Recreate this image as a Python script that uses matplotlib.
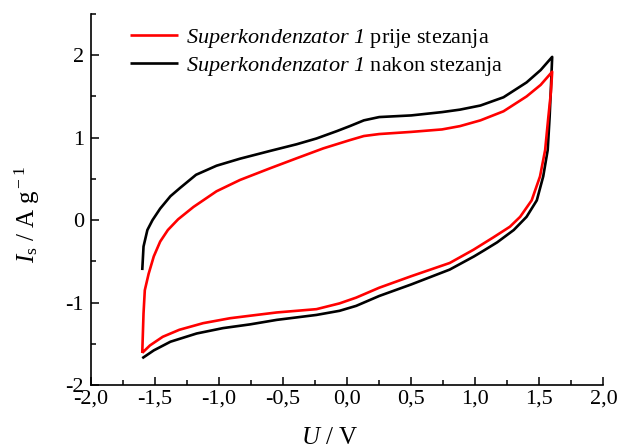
import matplotlib
matplotlib.use("Agg")
import matplotlib.pyplot as plt
from matplotlib.ticker import FixedLocator, FixedFormatter, MultipleLocator

plt.rcParams["font.family"] = ["Liberation Serif", "DejaVu Serif"]
plt.rcParams["mathtext.fontset"] = "custom"
plt.rcParams["mathtext.rm"] = "Liberation Serif"
plt.rcParams["mathtext.it"] = "Liberation Serif:italic"
plt.rcParams["mathtext.sf"] = "Liberation Serif:italic"
plt.rcParams["mathtext.bf"] = "Liberation Serif:bold"

# Cyclic voltammogram, supercapacitor 1 before clamping (red)
u_before = [-1.60, -1.59, -1.58, -1.55, -1.51, -1.46, -1.40, -1.32, -1.20, -1.02,
            -0.837, -0.60, -0.395, -0.187, 0.02, 0.13, 0.25, 0.50, 0.74, 0.88,
            1.04, 1.22, 1.40, 1.51, 1.60,
            1.59, 1.57, 1.545, 1.505, 1.44, 1.35, 1.27, 1.14, 0.985, 0.80,
            0.50, 0.25, 0.07, -0.06, -0.24, -0.55, -0.76, -0.915, -1.125, -1.31,
            -1.44, -1.54, -1.60]
i_before = [-1.61, -1.13, -0.85, -0.65, -0.44, -0.26, -0.12, 0.01, 0.16, 0.35,
            0.487, 0.63, 0.75, 0.87, 0.97, 1.02, 1.044, 1.07, 1.10, 1.14,
            1.21, 1.32, 1.50, 1.64, 1.80,
            1.55, 1.25, 0.85, 0.53, 0.24, 0.04, -0.08, -0.21, -0.36, -0.52,
            -0.68, -0.82, -0.94, -1.01, -1.08, -1.12, -1.16, -1.19, -1.25, -1.33,
            -1.415, -1.52, -1.61]

# Supercapacitor 1 after clamping (black)
u_after = [-1.60, -1.59, -1.56, -1.52, -1.46, -1.38, -1.305, -1.18, -1.02, -0.837,
           -0.60, -0.395, -0.24, -0.08, 0.02, 0.13, 0.25, 0.50, 0.74, 0.88, 1.04,
           1.22, 1.40, 1.51, 1.60,
           1.59, 1.58, 1.565, 1.53, 1.48, 1.40, 1.30, 1.17, 1.065, 0.99,
           0.80, 0.50, 0.25, 0.07, -0.06, -0.24, -0.55, -0.76, -0.97, -1.175,
           -1.38, -1.51, -1.60]
i_after = [-0.606, -0.32, -0.12, 0.0, 0.14, 0.29, 0.39, 0.55, 0.66, 0.745,
           0.84, 0.92, 0.99, 1.08, 1.14, 1.21, 1.25, 1.27, 1.31, 1.34, 1.39,
           1.49, 1.67, 1.82, 1.98,
           1.60, 1.25, 0.85, 0.53, 0.24, 0.04, -0.12, -0.27, -0.37, -0.44,
           -0.60, -0.78, -0.92, -1.04, -1.10, -1.15, -1.21, -1.265, -1.31, -1.375,
           -1.475, -1.58, -1.675]

x_ticks = [-2.0, -1.5, -1.0, -0.5, 0.0, 0.5, 1.0, 1.5, 2.0]
x_tick_labels = ["-2,0", "-1,5", "-1,0", "-0,5", "0,0", "0,5", "1,0", "1,5", "2,0"]
y_ticks = [-2, -1, 0, 1, 2]
y_tick_labels = ["-2", "-1", "0", "1", "2"]

label_before = r"$\mathsf{Superkondenzator\ 1}$ prije stezanja"
label_after = r"$\mathsf{Superkondenzator\ 1}$ nakon stezanja"

fig = plt.figure(figsize=(6.17, 4.48), dpi=100)
ax = fig.add_axes([0.1475, 0.1406, 0.978 - 0.1475, 0.96875 - 0.1406])

line_kw = dict(lw=1.9, solid_joinstyle="round", solid_capstyle="butt")
ax.plot(u_before, i_before, color="#ff0000", label=label_before, zorder=3, **line_kw)
ax.plot(u_after, i_after, color="black", label=label_after, zorder=2, **line_kw)

ax.set_xlim(-2.0, 2.0)
ax.set_ylim(-2.0, 2.5)

ax.xaxis.set_major_locator(FixedLocator(x_ticks))
ax.xaxis.set_major_formatter(FixedFormatter(x_tick_labels))
ax.yaxis.set_major_locator(FixedLocator(y_ticks))
ax.yaxis.set_major_formatter(FixedFormatter(y_tick_labels))
ax.xaxis.set_minor_locator(MultipleLocator(0.25))
ax.yaxis.set_minor_locator(MultipleLocator(0.5))

for side in ("top", "right"):
    ax.spines[side].set_visible(False)
for side in ("left", "bottom"):
    ax.spines[side].set_linewidth(1.2)

ax.tick_params(which="both", direction="in", width=1.1, labelsize=16)
ax.tick_params(axis="x", pad=3)
ax.tick_params(axis="y", pad=5)
ax.tick_params(which="major", length=6)
ax.tick_params(which="minor", length=3.5)

ax.set_xlabel(r"$\mathit{U}$ / V", fontsize=18)
ax.set_ylabel(r"$\mathit{I}_{\rm s}$ / A g$^{\rm -1}$", fontsize=18)
ax.xaxis.set_label_coords(0.465, -0.113)
ax.yaxis.set_label_coords(-0.095, 0.46)

ax.legend(loc="upper left", bbox_to_anchor=(0.076, 0.965), frameon=False,
          fontsize=16, handlelength=2.16, handletextpad=0.36,
          labelspacing=0.22, borderaxespad=0.0, borderpad=0.0)

fig.savefig("out.png", dpi=100)
